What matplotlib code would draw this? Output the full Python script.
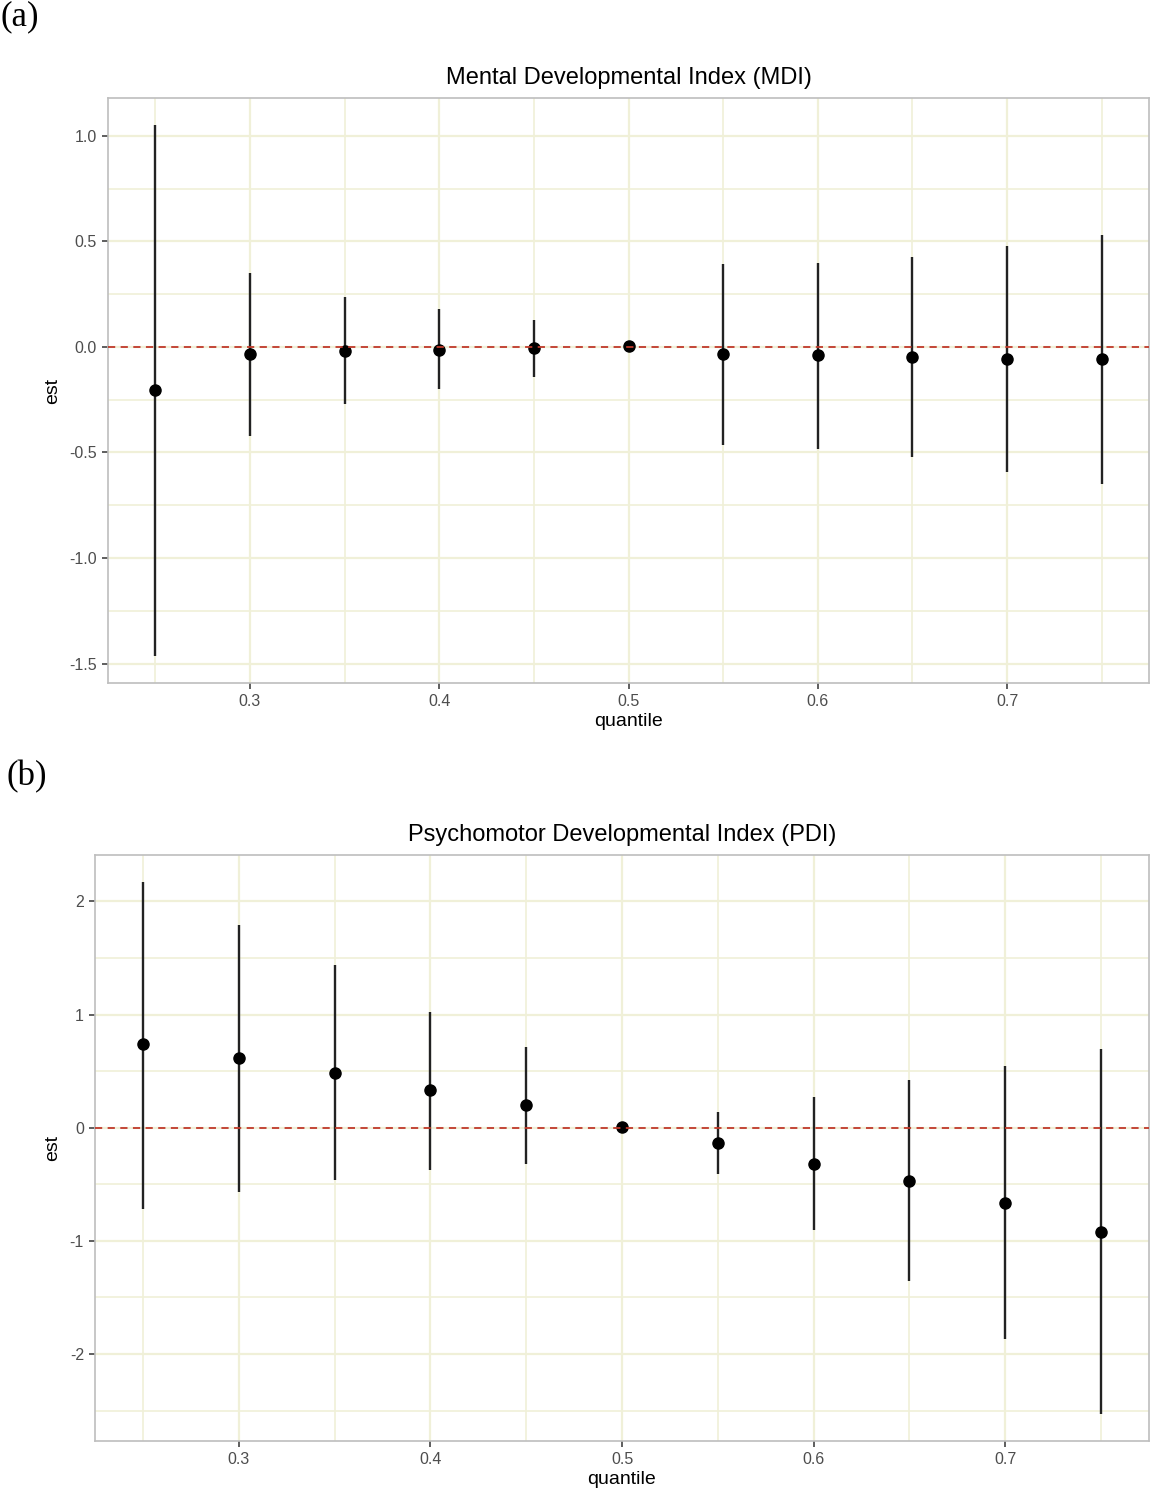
import matplotlib
matplotlib.use("Agg")
import matplotlib.pyplot as plt
from matplotlib.ticker import MultipleLocator, FixedLocator

quantiles = [0.25, 0.30, 0.35, 0.40, 0.45, 0.50, 0.55, 0.60, 0.65, 0.70, 0.75]

mdi_est = [-0.205, -0.035, -0.020, -0.014, -0.005, 0.006, -0.034, -0.040, -0.046, -0.058, -0.058]
mdi_lo = [-1.466, -0.420, -0.272, -0.200, -0.142, 0.006, -0.465, -0.485, -0.523, -0.593, -0.650]
mdi_hi = [1.053, 0.350, 0.236, 0.180, 0.128, 0.006, 0.391, 0.397, 0.428, 0.476, 0.532]

pdi_est = [0.737, 0.616, 0.487, 0.330, 0.202, 0.009, -0.133, -0.320, -0.469, -0.666, -0.918]
pdi_lo = [-0.715, -0.566, -0.465, -0.370, -0.322, 0.009, -0.405, -0.905, -1.354, -1.865, -2.534]
pdi_hi = [2.175, 1.795, 1.437, 1.020, 0.717, 0.009, 0.138, 0.270, 0.424, 0.542, 0.696]

x_ticks = [0.3, 0.4, 0.5, 0.6, 0.7]
mdi_yticks = [-1.5, -1.0, -0.5, 0.0, 0.5, 1.0]
mdi_yticklabels = ["-1.5", "-1.0", "-0.5", "0.0", "0.5", "1.0"]
pdi_yticks = [-2, -1, 0, 1, 2]
pdi_yticklabels = ["-2", "-1", "0", "1", "2"]

titles = ["Mental Developmental Index (MDI)", "Psychomotor Developmental Index (PDI)"]
panel_labels = ["(a)", "(b)"]

SANS = ["Liberation Sans", "DejaVu Sans"]
SERIF = ["Liberation Serif", "DejaVu Serif"]
GRID = "#F0F0D8"
BORDER = "#BEBEBE"
TICKC = "#4D4D4D"

fig = plt.figure(figsize=(11.55, 15), dpi=100)

axes_rects = [
    [108 / 1155, 1 - 683 / 1500, (1149 - 108) / 1155, (683 - 98) / 1500],
    [95 / 1155, 1 - 1441 / 1500, (1149 - 95) / 1155, (1441 - 855) / 1500],
]

datasets = [
    (mdi_est, mdi_lo, mdi_hi, mdi_yticks, mdi_yticklabels, 0.25),
    (pdi_est, pdi_lo, pdi_hi, pdi_yticks, pdi_yticklabels, 0.5),
]

for i, (rect, (est, lo, hi, yt, ytl, minor_step)) in enumerate(zip(axes_rects, datasets)):
    ax = fig.add_axes(rect)
    ax.vlines(quantiles, lo, hi, color="#222222", linewidth=1.7, zorder=3)
    ax.plot(quantiles, est, "o", color="black", markersize=8, zorder=4)
    ax.axhline(0, color="#C0392B", linestyle=(0, (4, 3)), linewidth=1.3, zorder=5)

    dmin, dmax = min(lo), max(hi)
    pad = (dmax - dmin) * 0.05
    ax.set_ylim(dmin - pad, dmax + pad)
    ax.set_xlim(0.25 - 0.025, 0.75 + 0.025)

    ax.xaxis.set_major_locator(FixedLocator(x_ticks))
    ax.set_xticklabels([f"{v:.1f}" for v in x_ticks])
    ax.xaxis.set_minor_locator(FixedLocator([0.25, 0.35, 0.45, 0.55, 0.65, 0.75]))
    ax.yaxis.set_major_locator(FixedLocator(yt))
    ax.set_yticklabels(ytl)
    ax.yaxis.set_minor_locator(MultipleLocator(minor_step))

    ax.grid(which="major", color=GRID, linewidth=1.6, zorder=0)
    ax.grid(which="minor", color=GRID, linewidth=1.2, zorder=0)
    ax.set_axisbelow(True)

    for sp in ax.spines.values():
        sp.set_color(BORDER)
        sp.set_linewidth(1.2)

    ax.tick_params(which="major", length=4, width=1.1, color="#333333",
                   labelcolor=TICKC, labelsize=11.5, pad=4)
    ax.tick_params(which="minor", length=0)
    for lab in ax.get_xticklabels() + ax.get_yticklabels():
        lab.set_fontfamily(SANS)

    ax.set_xlabel("quantile", fontsize=14, family=SANS, labelpad=3)
    ax.set_ylabel("est", fontsize=14, family=SANS, labelpad=6)
    ax.set_title(titles[i], fontsize=17, family=SANS, pad=10)

fig.text(0 / 1155, 1 - 0 / 1500, panel_labels[0], fontsize=25, family=SERIF,
         ha="left", va="top")
fig.text(7 / 1155, 1 - 760 / 1500, panel_labels[1], fontsize=25, family=SERIF,
         ha="left", va="top")

fig.savefig("out.png", dpi=100, facecolor="white")
